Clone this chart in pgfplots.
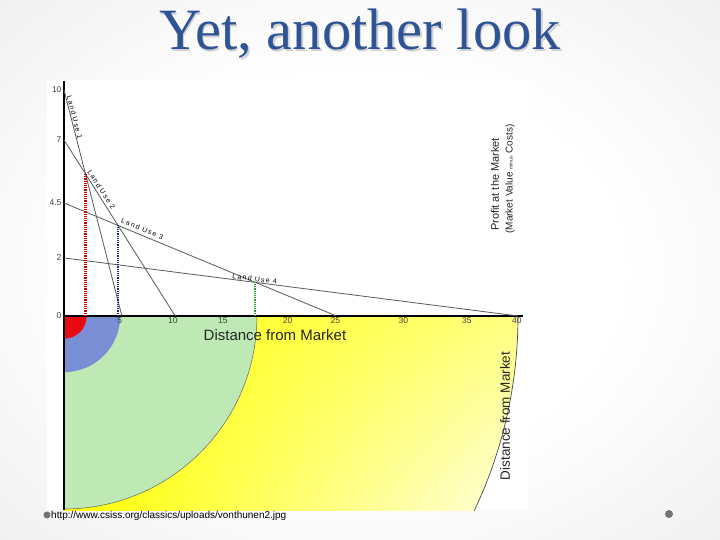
\documentclass[border=0pt]{standalone}
\usepackage{pgfplots}
\pgfplotsset{compat=1.18}
\usetikzlibrary{shadings}
\usepackage{fontspec}
\setmainfont{Liberation Sans}
\newfontfamily\titlefont{Liberation Serif}
\newfontfamily\lufont[LetterSpace=18]{Liberation Sans}
\definecolor{titleblue}{RGB}{47,84,150}
\definecolor{zred}{RGB}{232,10,16}
\definecolor{zblue}{RGB}{122,142,212}
\definecolor{zgreen}{RGB}{190,232,180}
\definecolor{dred}{RGB}{200,0,0}
\definecolor{dblue}{RGB}{25,45,130}
\definecolor{dgreen}{RGB}{40,160,40}
\pgfdeclareradialshading{slidebg}{\pgfpoint{0bp}{0bp}}{color(0bp)=(white); color(18bp)=(white); color(72bp)=(black!17)}
\begin{document}
\begin{tikzpicture}[x=1pt,y=1pt]
% slide background
\shade[shading=slidebg] (0,0) rectangle (720,540);
% title
\node[font=\titlefont\fontsize{58.5}{61}\selectfont, text=black!18, anchor=base] at (361.5,488.5) {Yet, another look};
\node[font=\titlefont\fontsize{58.5}{61}\selectfont, text=titleblue, anchor=base] at (360,490) {Yet, another look};
% picture area
\fill[white] (47,30) rectangle (528,460);

% lower quadrant: zones
\begin{axis}[at={(64pt,224pt)}, anchor=north west,
  x=11.35pt, y=11.35pt, xmin=0, xmax=40.4, ymin=-17.1, ymax=0,
  axis x line=none, axis y line*=left, axis on top,
  axis line style={line width=2.6pt, black},
  xtick=\empty, ytick=\empty, clip=true]
\begin{scope}
\clip (axis cs:0,0) -- (axis cs:40,0) arc[start angle=0, end angle=-90, radius=454pt] -- cycle;
\shade[upper left=yellow, upper right=yellow!50, lower left=yellow, lower right=yellow!12] (axis cs:0,-17.1) rectangle (axis cs:40,0);
\end{scope}
\draw[black!70, line width=0.7pt] (axis cs:40,0) arc[start angle=0, end angle=-90, radius=454pt];
\fill[zgreen] (axis cs:0,0) -- (axis cs:17.0,0) arc[start angle=0, end angle=-90, radius=193pt] -- cycle;
\draw[black!60, line width=0.5pt] (axis cs:17.0,0) arc[start angle=0, end angle=-90, radius=193pt];
\fill[zblue] (axis cs:0,0) -- (axis cs:4.95,0) arc[start angle=0, end angle=-90, radius=56.2pt] -- cycle;
\fill[zred] (axis cs:0,0) -- (axis cs:2.0,0) arc[start angle=0, end angle=-90, radius=22.7pt] -- cycle;
\end{axis}

% upper part: profit lines
\begin{axis}[at={(64pt,224pt)}, anchor=south west,
  x=11.35pt, y=22.6pt, xmin=0, xmax=40.4, ymin=0, ymax=10.4,
  axis x line*=bottom, axis y line*=left,
  axis line style={line width=2.6pt, black},
  major tick length=0pt,
  xtick={4.9,9.6,14.0,19.7,23.9,29.9,35.5,39.9},
  xticklabels={5,10,15,20,25,30,35,40},
  ytick={0,2.57,5.0,7.79,10},
  yticklabels={0,2,4.5,7,10},
  tick label style={font=\fontsize{8.5}{9}\selectfont, text=black!75},
  xticklabel style={yshift=1.5pt},
  yticklabel style={xshift=1pt},
  /pgf/number format/assume math mode=true,
  clip=false]
% land use bid-rent lines
\addplot[black!65, line width=0.8pt] coordinates {(0,10) (5.1,0)};
\addplot[black!65, line width=0.8pt] coordinates {(0,7.79) (9.8,0)};
\addplot[black!65, line width=0.8pt] coordinates {(0,5.0) (24,0)};
\addplot[black!65, line width=0.8pt] coordinates {(0,2.57) (40,0)};
% dotted drop lines at the intersections
\addplot[dred, line width=2.2pt, dash pattern=on 1.1pt off 1.1pt] coordinates {(1.8955,0) (1.8955,6.283)};
\addplot[dblue, line width=2.2pt, dash pattern=on 1.1pt off 1.1pt] coordinates {(4.7565,0) (4.7565,4.009)};
\addplot[dgreen, line width=2.0pt, dash pattern=on 1.1pt off 1.1pt] coordinates {(16.865,0) (16.865,1.486)};
% labels along the lines
\node[font=\lufont\fontsize{7}{7}\selectfont, rotate=-75.6] at (axis cs:0.95,8.8) {Land Use 1};
\node[font=\lufont\fontsize{7}{7}\selectfont, rotate=-57] at (axis cs:3.3,5.6) {Land Use 2};
\node[font=\lufont\fontsize{7}{7}\selectfont, rotate=-22.3] at (axis cs:6.9,3.85) {Land Use 3};
\node[font=\lufont\fontsize{7}{7}\selectfont, rotate=-7.3] at (axis cs:16.8,1.64) {Land Use 4};
\end{axis}

% axis titles
\node[font=\fontsize{15}{17}\selectfont, text=black!85] at (275,205) {Distance from Market};
\node[font=\fontsize{11}{13}\selectfont, text=black!85, rotate=90] at (495,355.5) {Profit at the Market};
\node[font=\fontsize{10}{12}\selectfont, text=black!85, rotate=90] at (510,361) {(Market Value {\fontsize{5}{6}\selectfont minus} Costs)};
\node[font=\fontsize{13.5}{15}\selectfont, text=black!85, rotate=90] at (505,124) {Distance from Market};

% source line and bullets
\fill[black!55] (47,25) circle (3.5);
\node[anchor=west, font=\fontsize{10}{12}\selectfont, inner sep=0pt] at (51,24.5) {http://www.csiss.org/classics/uploads/vonthunen2.jpg};
\fill[black!55] (669,26) circle (4);
\end{tikzpicture}
\end{document}
